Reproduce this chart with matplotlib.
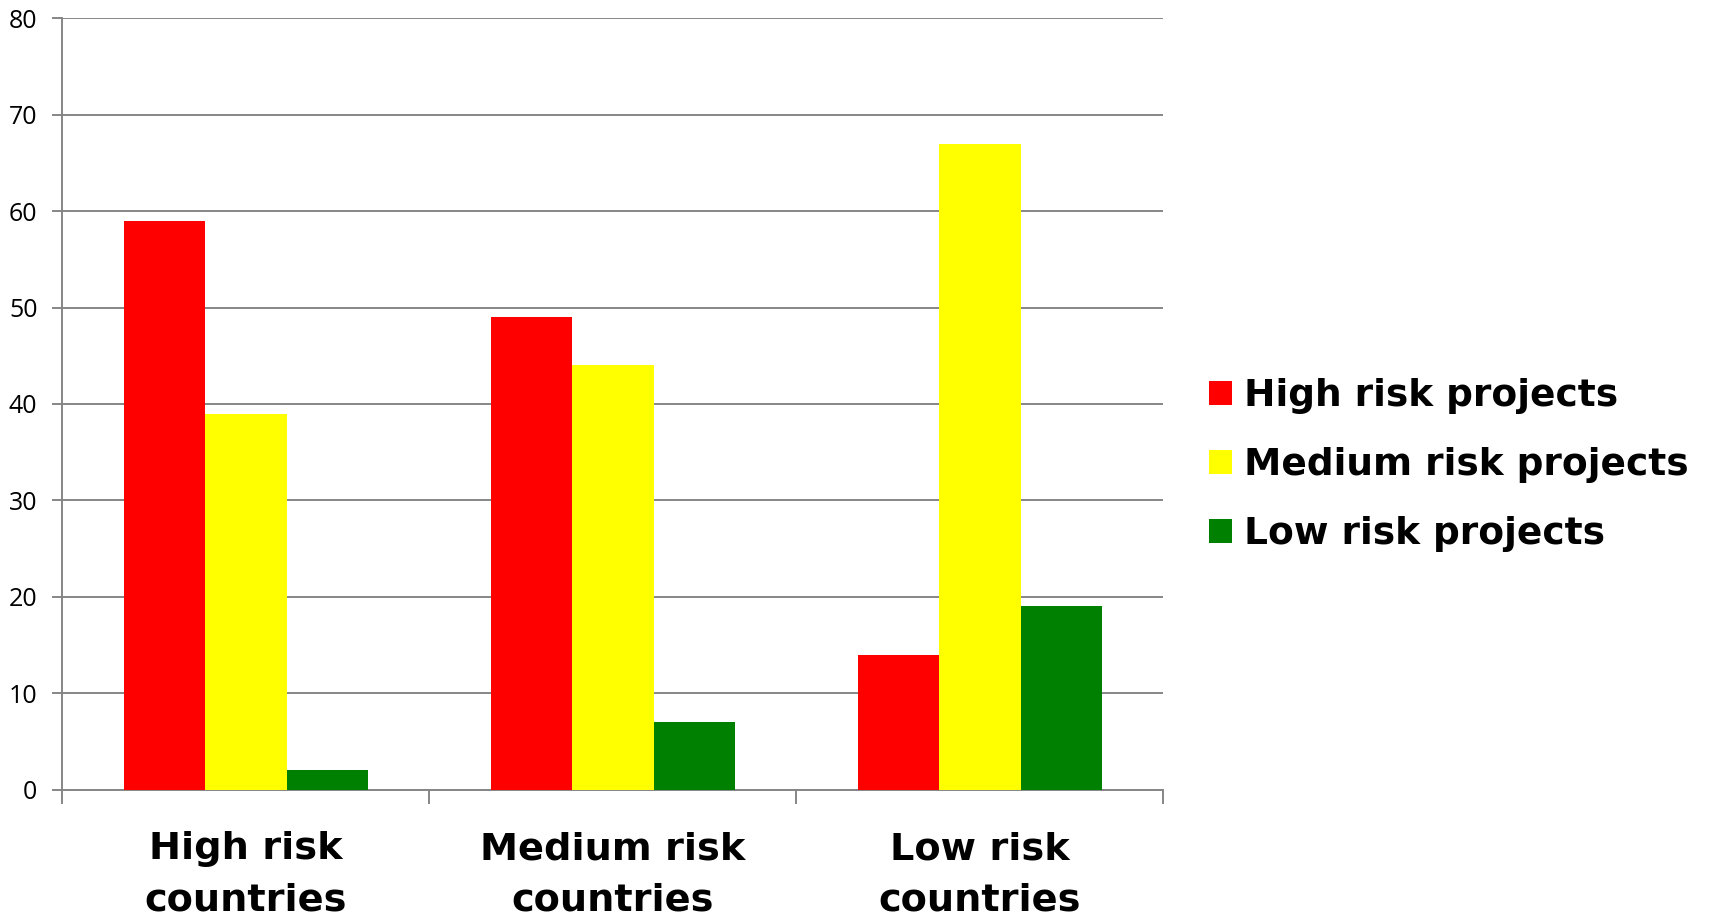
import matplotlib
matplotlib.use("Agg")
import matplotlib.pyplot as plt
import numpy as np
from matplotlib.patches import Patch

categories = ["High risk\ncountries", "Medium risk\ncountries", "Low risk\ncountries"]
series_names = ["High risk projects", "Medium risk projects", "Low risk projects"]
high_vals = [59, 49, 14]
medium_vals = [39, 44, 67]
low_vals = [2, 7, 19]
colors = ["#FF0000", "#FFFF00", "#008000"]
yticks = [0, 10, 20, 30, 40, 50, 60, 70, 80]

fig = plt.figure(figsize=(17.11, 9.17), dpi=100)
ax = fig.add_axes([0.0365, 0.139, 0.680 - 0.0365, 0.980 - 0.139])

x = np.arange(len(categories))
w = 2.0 / 9.0
for i, (vals, c) in enumerate(zip([high_vals, medium_vals, low_vals], colors)):
    ax.bar(x + (i - 1) * w, vals, width=w, color=c, edgecolor="none", zorder=3)

grid_c = "#868686"
ax.set_xlim(-0.5, len(categories) - 0.5)
ax.set_ylim(0, 80)
ax.set_yticks(yticks)
ax.set_yticklabels([str(v) for v in yticks], fontsize=18, family="Open Sans")
ax.yaxis.grid(True, color=grid_c, linewidth=1.4, zorder=0)
ax.tick_params(axis="y", length=7, width=1.4, color=grid_c, pad=11)

ax.set_xticks(np.arange(len(categories) + 1) - 0.5)
ax.set_xticklabels([])
ax.tick_params(axis="x", which="major", length=10, width=1.4, color=grid_c)
ax.set_xticks(x, minor=True)
ax.set_xticklabels(categories, minor=True, fontsize=27.5, fontweight="bold",
                   linespacing=1.55)
ax.tick_params(axis="x", which="minor", length=0, pad=30)

for s in ["top", "right"]:
    ax.spines[s].set_visible(False)
for s in ["left", "bottom"]:
    ax.spines[s].set_color(grid_c)
    ax.spines[s].set_linewidth(1.4)

handles = [Patch(facecolor=c, edgecolor="none") for c in colors]
fig.legend(handles, series_names, loc="center left",
           bbox_to_anchor=(0.687, 0.493), frameon=False,
           prop={"size": 27, "weight": "bold"}, handlelength=0.62,
           handleheight=0.62, handletextpad=0.3, labelspacing=0.88)

fig.savefig("out.png", dpi=100)
